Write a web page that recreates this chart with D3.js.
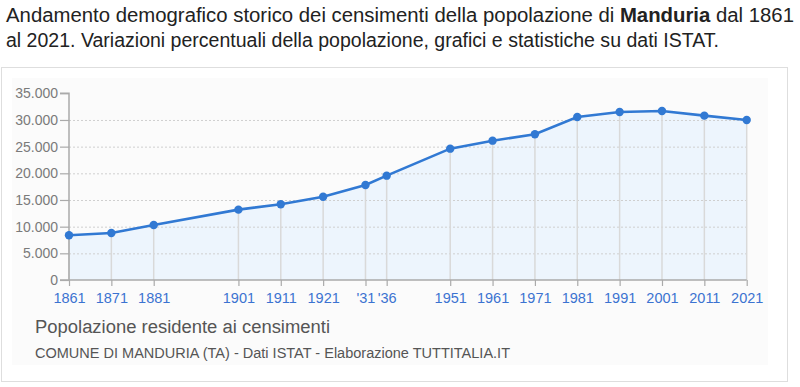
<!DOCTYPE html>
<html><head><meta charset="utf-8">
<script src="https://cdn.jsdelivr.net/npm/d3@7"></script>
<style>
body{margin:0;background:#fff;}
svg{display:block;font-family:"Liberation Sans",Arial,sans-serif;}
</style></head>
<body><svg id="c" width="800" height="387"></svg>
<script>
const years = [1861,1871,1881,1901,1911,1921,1931,1936,1951,1961,1971,1981,1991,2001,2011,2021];
const population = [8380,8810,10310,13190,14190,15620,17810,19560,24620,26120,27310,30560,31500,31690,30810,30000];
const xLabels = ["1861","1871","1881","1901","1911","1921","'31","'36","1951","1961","1971","1981","1991","2001","2011","2021"];
const yTicks = [0,5000,10000,15000,20000,25000,30000,35000];

const svg = d3.select("#c");
const fmt = d => d3.format(",")(d).replace(/,/g,".");

// title
const t1 = svg.append("text").attr("x",6).attr("y",22).attr("font-size",19.5).attr("fill","#222")
  .attr("textLength",788).attr("lengthAdjust","spacingAndGlyphs");
t1.append("tspan").text("Andamento demografico storico dei censimenti della popolazione di ");
t1.append("tspan").attr("font-weight","bold").text("Manduria");
t1.append("tspan").text(" dal 1861");
svg.append("text").attr("x",6).attr("y",47).attr("font-size",19.5).attr("fill","#222")
  .attr("textLength",713).attr("lengthAdjust","spacingAndGlyphs")
  .text("al 2021. Variazioni percentuali della popolazione, grafici e statistiche su dati ISTAT.");

// frame
svg.append("rect").attr("x",1.5).attr("y",67.5).attr("width",786).attr("height",314)
  .attr("fill","#fff").attr("stroke","#dedede");
svg.append("rect").attr("x",12).attr("y",78).attr("width",756).attr("height",287).attr("fill","#fbfbfb");

const x = d3.scaleLinear().domain([1861,2021]).range([69,746.7]);
const y = d3.scaleLinear().domain([0,35000]).range([280,93.3]);

const pts = years.map((yr,i)=>[yr,population[i]]);

// area
svg.append("path").datum(pts)
  .attr("fill","#edf5fd")
  .attr("d", d3.area().x(d=>x(d[0])).y0(y(0)).y1(d=>y(d[1])));

// horizontal grid
svg.append("g").selectAll("line").data(yTicks.filter(v=>v>0&&v<35000)).join("line")
  .attr("x1",69).attr("x2",746.7).attr("y1",d=>y(d)+0.5).attr("y2",d=>y(d)+0.5)
  .attr("stroke","#cfcfcf").attr("stroke-dasharray","2,2");

// vertical grid
svg.append("g").selectAll("line").data(pts).join("line")
  .attr("x1",d=>x(d[0])).attr("x2",d=>x(d[0])).attr("y1",y(0)).attr("y2",d=>y(d[1]))
  .attr("stroke","#d9d9d9").attr("stroke-width",1.5);

// y axis
const ya = svg.append("g").attr("transform","translate(69,0)")
  .call(d3.axisLeft(y).tickValues(yTicks).tickFormat(fmt).tickSize(9).tickPadding(2));
ya.select(".domain").attr("stroke","#aaa").attr("stroke-width",1.5).attr("d","M-9,"+y(35000)+"H0V"+y(0)+"H-9");
ya.selectAll(".tick line").attr("stroke","#aaa").attr("stroke-width",1.2);
ya.selectAll(".tick text").attr("fill","#7a7a7a").attr("font-size",14).attr("font-family","Liberation Sans, Arial, sans-serif");

// x axis
const xa = svg.append("g").attr("transform","translate(0,280)")
  .call(d3.axisBottom(x).tickValues(years).tickFormat((d,i)=>xLabels[i]).tickSize(6).tickPadding(7));
xa.select(".domain").attr("stroke","#aaa").attr("stroke-width",1.5).attr("d","M69,0H746.7");
xa.selectAll(".tick line").attr("stroke","#aaa").attr("stroke-width",1.2);
xa.selectAll(".tick text").attr("fill","#3b73d1").attr("font-size",14.5).attr("font-family","Liberation Sans, Arial, sans-serif");

// line
svg.append("path").datum(pts)
  .attr("fill","none").attr("stroke","#3179d3").attr("stroke-width",2.6)
  .attr("d", d3.line().x(d=>x(d[0])).y(d=>y(d[1])));
svg.append("g").selectAll("circle").data(pts).join("circle")
  .attr("cx",d=>x(d[0])).attr("cy",d=>y(d[1])).attr("r",4.2).attr("fill","#3179d3");

// captions
svg.append("text").attr("x",35).attr("y",333).attr("font-size",18).attr("fill","#555")
  .attr("textLength",295).attr("lengthAdjust","spacingAndGlyphs")
  .text("Popolazione residente ai censimenti");
svg.append("text").attr("x",35).attr("y",358).attr("font-size",14).attr("fill","#555")
  .attr("textLength",475).attr("lengthAdjust","spacingAndGlyphs")
  .text("COMUNE DI MANDURIA (TA) - Dati ISTAT - Elaborazione TUTTITALIA.IT");
</script></body></html>
